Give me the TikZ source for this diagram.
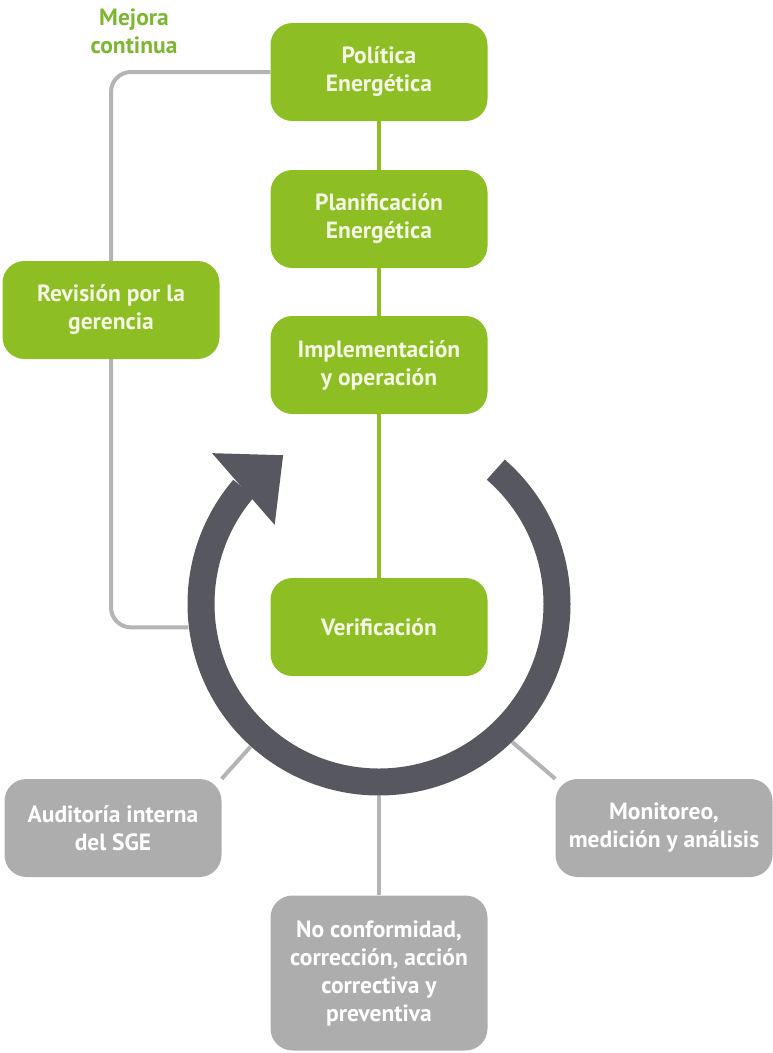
\documentclass[tikz,border=0pt]{standalone}
\usepackage{fontspec}
\setmainfont{PT Sans}
\usetikzlibrary{calc,backgrounds}
\definecolor{sgegreen}{HTML}{8DBE23}
\definecolor{sgelabel}{HTML}{7DB631}
\definecolor{sgegray}{HTML}{ADADAD}
\definecolor{sgeline}{HTML}{B4B4B6}
\definecolor{sgering}{HTML}{56575F}
\definecolor{sgelight}{HTML}{F4F8E4}
\tikzset{
  stagebox/.style={rectangle, rounded corners=22pt, fill=sgegreen, text=sgelight,
    minimum width=217pt, minimum height=98pt, align=center, inner sep=0pt,
    font=\fontsize{23.5}{28}\selectfont\bfseries},
  subbox/.style={stagebox, fill=sgegray, text=white},
  greenlink/.style={draw=sgegreen, line width=4pt},
  graylink/.style={draw=sgeline, line width=4pt},
}

\begin{document}
\begin{tikzpicture}[x=1pt,y=1pt]
\useasboundingbox (0,0) rectangle (772,-1053);

\node[stagebox] (pol) at (379,-72)  {Política\\Energética};
\node[stagebox] (pla) at (379,-219) {Planificación\\Energética};
\node[stagebox] (imp) at (379,-365) {Implementación\\y operación};
\node[stagebox] (ver) at (379,-627) {Verificación};
\node[stagebox] (rev) at (111,-310) {Revisión por la\\gerencia};

\node[subbox] (aud) at (113,-828) {Auditoría interna\\del SGE};
\node[subbox] (mon) at (664,-828) {Monitoreo,\\medición y análisis};
\node[subbox, minimum height=155pt] (noc) at (379,-973)
  {No conformidad,\\corrección, acción\\correctiva y\\preventiva};

\node[align=center, text=sgelabel, font=\fontsize{23.5}{28}\selectfont\bfseries]
  (mej) at (134,-31) {Mejora\\continua};

\coordinate (ctr) at (379,-604);
\coordinate (ring-w) at ($(ctr)+(187:192)$);
\coordinate (ring-sw) at ($(ctr)+(-132:192)$);
\coordinate (ring-se) at ($(ctr)+(-46:192)$);
\coordinate (ring-s) at ($(ctr)+(-90:192)$);

\draw[sgering, line width=27pt] ($(ctr)+(49:178)$)
  arc[start angle=49, end angle=-220.5, radius=178];
\fill[sgering] ($(ctr)+(137.9:225)$) -- ($(ctr)+(122.8:177)$)
  -- ($(ctr)+(142.8:131)$) -- cycle;

\begin{scope}[on background layer]
\draw[greenlink] (pol) -- (pla);
\draw[greenlink] (pla) -- (imp);
\draw[greenlink] (imp) -- (ver);
\draw[graylink, rounded corners=20pt] (pol.west) -| (rev.north);
\draw[graylink, rounded corners=20pt] (rev.south) |- (ring-w);
\draw[graylink] (ring-sw) -- (aud.north east);
\draw[graylink] (ring-se) -- (mon.north west);
\draw[graylink] (ring-s) -- (noc);
\end{scope}
\end{tikzpicture}
\end{document}
